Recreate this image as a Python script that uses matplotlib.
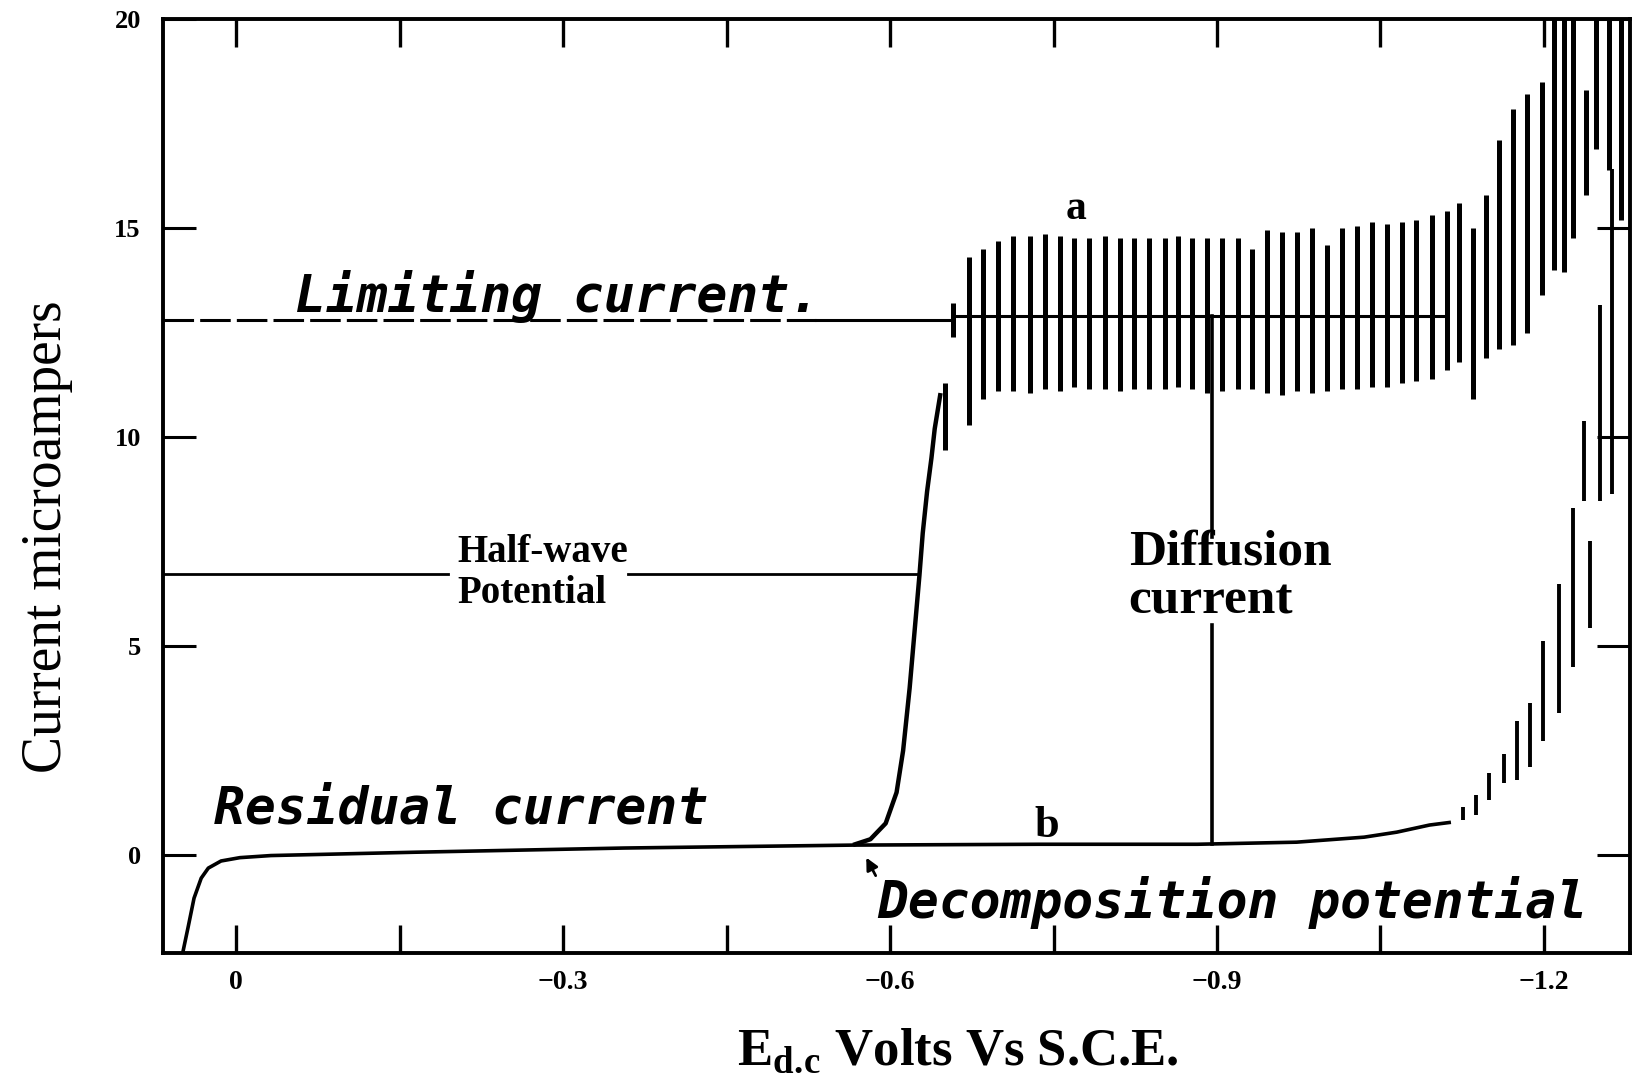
import numpy as np
import matplotlib.pyplot as plt

# residual current (curve b), volts vs SCE -> microamps
resid_v = [0.049, 0.044, 0.0386, 0.032, 0.0255, 0.0138, -0.0035, -0.032, -0.165,
           -0.356, -0.566, -0.737, -0.882, -0.973, -1.035, -1.065, -1.095, -1.113]
resid_i = [-2.34, -1.72, -1.03, -0.55, -0.31, -0.14, -0.06, -0.01, 0.07,
           0.17, 0.24, 0.26, 0.26, 0.31, 0.43, 0.55, 0.72, 0.78]

# rising wave of curve a, from the decomposition point
wave_v = [-0.568, -0.582, -0.596, -0.606, -0.612, -0.618, -0.623, -0.627,
          -0.630, -0.634, -0.638, -0.641, -0.646]
wave_i = [0.26, 0.38, 0.76, 1.5, 2.5, 4.0, 5.5, 6.7, 7.7, 8.7, 9.5, 10.2, 11.0]

# drop oscillations of curve a (potential, low, high)
osc_a_v = [-0.650, -0.658, -0.672, -0.685, -0.699, -0.713, -0.728, -0.742, -0.756,
           -0.769, -0.783, -0.797, -0.811, -0.824, -0.838, -0.852, -0.864, -0.877,
           -0.891, -0.905, -0.919, -0.932, -0.946, -0.960, -0.973, -0.987, -1.001,
           -1.015, -1.028, -1.042, -1.056, -1.070, -1.083, -1.097, -1.111, -1.122,
           -1.135, -1.147, -1.159, -1.172, -1.184, -1.198, -1.209, -1.218, -1.227,
           -1.239, -1.248, -1.260, -1.271]
osc_a_lo = [9.7, 12.4, 10.3, 10.9, 11.1, 11.1, 11.05, 11.15, 11.1,
            11.2, 11.15, 11.15, 11.1, 11.15, 11.15, 11.15, 11.2, 11.15,
            11.05, 11.1, 11.15, 11.15, 11.05, 11.0, 11.1, 11.05, 11.1,
            11.15, 11.15, 11.2, 11.2, 11.3, 11.35, 11.4, 11.6, 11.8,
            10.9, 11.9, 12.1, 12.2, 12.5, 13.4, 14.0, 13.95, 14.75,
            15.8, 16.9, 16.4, 15.2]
osc_a_hi = [11.3, 13.2, 14.3, 14.5, 14.7, 14.8, 14.8, 14.85, 14.8,
            14.75, 14.75, 14.8, 14.75, 14.75, 14.75, 14.75, 14.8, 14.75,
            14.75, 14.75, 14.75, 14.5, 14.95, 14.9, 14.9, 15.0, 14.6,
            15.0, 15.05, 15.15, 15.1, 15.15, 15.2, 15.3, 15.4, 15.6,
            15.0, 15.8, 17.1, 17.85, 18.2, 18.5, 20.5, 20.5, 20.5,
            18.3, 20.5, 20.5, 20.5]

# drop oscillations of curve b near the decomposition of the supporting electrolyte
osc_b_v = [-1.126, -1.138, -1.150, -1.163, -1.175, -1.187, -1.199, -1.214,
           -1.227, -1.237, -1.242, -1.251, -1.262]
osc_b_lo = [0.84, 0.95, 1.31, 1.72, 1.79, 2.10, 2.74, 3.39, 4.49, 8.47, 5.44, 8.47, 8.64]
osc_b_hi = [1.15, 1.43, 1.96, 2.43, 3.22, 3.63, 5.13, 6.49, 8.31, 10.38, 7.52, 13.17, 16.42]

limiting_i = 12.8
plateau_mean_i = 12.9
halfwave_i = 6.73
diffusion_v = -0.895

xticks = [0, -0.15, -0.3, -0.45, -0.6, -0.75, -0.9, -1.05, -1.2]
xtick_labels = ["0", "", "\u22120.3", "", "\u22120.6", "", "\u22120.9", "", "\u22121.2"]
yticks = [0, 5, 10, 15, 20]
ytick_labels = ["0", "5", "10", "15", "20"]

plt.rcParams['mathtext.fontset'] = 'custom'
plt.rcParams['mathtext.rm'] = 'Liberation Serif'
plt.rcParams['mathtext.bf'] = 'Liberation Serif:bold'

fig = plt.figure(figsize=(16.34, 10.74), dpi=100)
ax = fig.add_axes([0.0998, 0.1127, 0.8978, 0.8696])
ax.set_xlim(0.067, -1.279)
ax.set_ylim(-2.34, 20)

ink = "black"
ax.plot(resid_v, resid_i, color=ink, lw=2.6)
ax.plot(wave_v, wave_i, color=ink, lw=3.2)
ax.vlines(osc_a_v, osc_a_lo, osc_a_hi, color=ink, lw=3.6)
ax.vlines(osc_b_v, osc_b_lo, osc_b_hi, color=ink, lw=2.8)

# construction lines
ax.plot([0.067, -0.532], [limiting_i, limiting_i], color=ink, lw=2.2, ls=(0, (10, 2)))
ax.plot([-0.532, -0.658], [limiting_i, limiting_i], color=ink, lw=2.2)
ax.plot([-0.660, -1.111], [plateau_mean_i, plateau_mean_i], color=ink, lw=2.2)
ax.plot([0.067, -0.194], [halfwave_i, halfwave_i], color=ink, lw=2.0)
ax.plot([-0.360, -0.627], [halfwave_i, halfwave_i], color=ink, lw=2.0)
ax.plot([diffusion_v, diffusion_v], [plateau_mean_i, 7.6], color=ink, lw=2.6)
ax.plot([diffusion_v, diffusion_v], [5.5, 0.27], color=ink, lw=2.6)

mono = dict(family="DejaVu Sans Mono", style="oblique", weight="bold", size=37, color=ink)
ax.text(-0.054, 13.0, "Limiting current.", va="baseline", ha="left", **mono)
ax.text(0.020, 0.75, "Residual current", va="baseline", ha="left", **mono)
ax.text(-0.588, -1.5, "Decomposition potential", va="baseline", ha="left", **mono)
ax.annotate("", xy=(-0.577, 0.0), xytext=(-0.588, -0.55),
            arrowprops=dict(arrowstyle="-|>", color=ink, lw=2, mutation_scale=18))

serif = dict(family="Liberation Serif", weight="bold", color=ink)
ax.text(-0.203, 7.23, "Half-wave", va="center", ha="left", size=28, **serif)
ax.text(-0.203, 6.25, "Potential", va="center", ha="left", size=28, **serif)
ax.text(-0.819, 7.23, "Diffusion", va="center", ha="left", size=37, **serif)
ax.text(-0.819, 6.06, "current", va="center", ha="left", size=37, **serif)
ax.text(-0.771, 15.45, "a", va="center", ha="center", size=30, **serif)
ax.text(-0.744, 0.7, "b", va="center", ha="center", size=32, **serif)

for side in ["left", "right", "top", "bottom"]:
    ax.spines[side].set_linewidth(2.8)
ax.set_xticks(xticks)
ax.set_xticklabels(xtick_labels, family="Liberation Serif", weight="bold", size=20)
ax.set_yticks(yticks)
ax.set_yticklabels(ytick_labels, family="Liberation Serif", weight="bold", size=19)
ax.tick_params(axis="x", direction="in", length=20, width=2.4, pad=12, top=True)
ax.tick_params(axis="y", direction="in", length=24, width=2.2, pad=16, right=True)

fig.text(47 / 1634, 1 - 537 / 1074, "Current microampers", rotation=90,
         ha="center", va="center", family="Liberation Serif", size=40)
fig.text(958 / 1634, 1 - 1052 / 1074, r"E$_{\mathbf{d.\!c}}$ Volts Vs S.C.E.",
         ha="center", va="center", family="Liberation Serif", weight="bold", size=38)

fig.savefig("out.png", dpi=100)
plt.close(fig)
